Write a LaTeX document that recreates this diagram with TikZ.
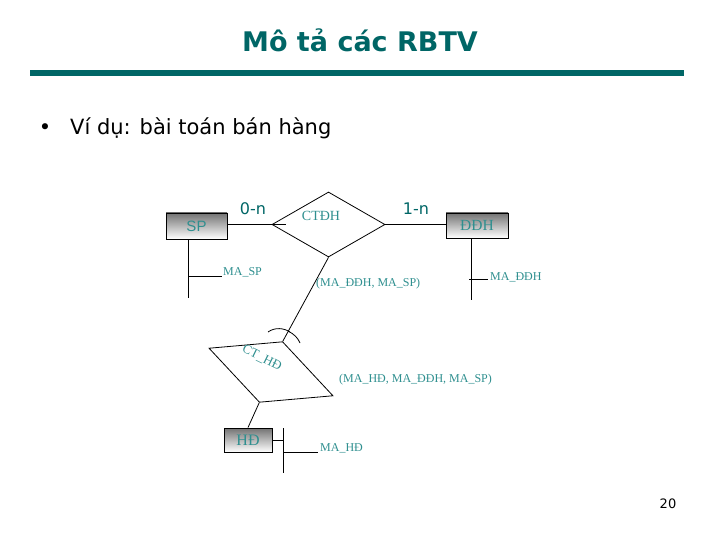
\documentclass[tikz,border=0pt]{standalone}
\usepackage{fontspec}
\usetikzlibrary{shapes.geometric}
\setmainfont{Liberation Serif}
\newfontfamily\dvs{DejaVu Sans}
\newfontfamily\lsans{Liberation Sans}
\definecolor{titleteal}{HTML}{006666}
\definecolor{lblteal}{HTML}{2F8F8F}
\tikzset{
 entity/.style={draw=black, line width=0.9pt, top color=black!55, bottom color=white, inner sep=0pt, text=lblteal},
 rel/.style={draw=black, line width=0.8pt, shape=diamond, inner sep=0pt},
 lbl/.style={text=lblteal, font=\fontsize{12}{12}\selectfont, inner sep=0pt},
 card/.style={text=titleteal, font=\dvs\fontsize{16}{16}\selectfont, inner sep=0pt},
 conn/.style={draw=black, line width=0.8pt},
}
\begin{document}
\begin{tikzpicture}[x=1pt,y=-1pt]
\useasboundingbox (0,0) rectangle (720,540);
% title and rule
\node[anchor=base, text=titleteal, font=\dvs\bfseries\fontsize{27}{27}\selectfont, inner sep=0pt] (title) at (360,52) {Mô tả các RBTV};
\fill[titleteal] (30,70) rectangle (684,76);
% bullet line
\node[anchor=base, font=\dvs\fontsize{21}{21}\selectfont, inner sep=0pt] (dot) at (45,135) {•};
\node[anchor=base west, font=\dvs\fontsize{21}{21}\selectfont, inner sep=0pt] (bullet) at (70,135) {Ví dụ: bài toán bán hàng};
% entities
\node[entity, minimum width=61, minimum height=26, font=\lsans\fontsize{15}{15}\selectfont] (SP) at (196.5,226) {SP};
\node[entity, minimum width=62, minimum height=25, font=\fontsize{15.5}{15.5}\selectfont] (DDH) at (477,225.5) {ĐĐH};
\node[entity, minimum width=48, minimum height=24, font=\fontsize{16}{16}\selectfont] (HD) at (248,440) {HĐ};
% relationships
\node[rel, minimum width=113, minimum height=65] (CTDDH) at (328.5,224.5) {};
\node[lbl, font=\fontsize{14}{14}\selectfont] (CTDDHlbl) at (321,216) {CTĐH};
\node[rel, minimum width=133, minimum height=65, rotate=-21] (CTHD) at (271,372) {};
\node[lbl, font=\fontsize{13}{13}\selectfont, rotate=-26] (CTHDlbl) at (262,358) {CT\_HĐ};
% cardinalities
\node[card] (c1) at (253,209) {0-n};
\node[card] (c2) at (416,209) {1-n};
% connectors
\draw[conn] (SP.east |- CTDDH.west) -- (CTDDH.west);
\draw[conn] (CTDDH.west) -- ++(14,0);
\draw[conn] (CTDDH.east) -- (CTDDH.east -| DDH.west);
\draw[conn] (CTDDH.south) -- (CTHD.north);
\draw[conn] (CTHD.south) -- (HD.north);
\draw[conn] (268,332) .. controls (275,327) and (284,328) .. (290,332);
\draw[conn] (288,331) .. controls (294,334) and (298,338) .. (300,343);
% attributes of SP
\coordinate (spa) at (188,276);
\coordinate (spe) at (222,276);
\coordinate (spb) at (188,298);
\draw[conn] (SP.south -| spa) -- (spb);
\draw[conn] (spa) -- (spe);
\node[lbl, anchor=base west] (maSP) at (223,275) {MA\_SP};
% attributes of DDH
\coordinate (dda) at (469,279);
\coordinate (dde) at (488,279);
\coordinate (ddv) at (471,279);
\coordinate (ddb) at (471,300);
\draw[conn] (DDH.south -| ddv) -- (ddb);
\draw[conn] (dda) -- (dde);
\node[lbl, anchor=base west] (maDDH) at (490,280) {MA\_ĐĐH};
% attributes of HD
\coordinate (hdt) at (283,428);
\coordinate (hdb) at (283,473);
\coordinate (hda) at (283,452);
\coordinate (hde) at (318,452);
\draw[conn] (HD.east) -- (HD.east -| hdt);
\draw[conn] (hdt) -- (hdb);
\draw[conn] (hda) -- (hde);
\node[lbl, anchor=base west] (maHD) at (320,451) {MA\_HĐ};
% relationship keys
\node[lbl, anchor=base west] (k1) at (316,286) {(MA\_ĐĐH, MA\_SP)};
\node[lbl, anchor=base west] (k2) at (339,382) {(MA\_HĐ, MA\_ĐĐH, MA\_SP)};
% page number
\node[font=\dvs\fontsize{13}{13}\selectfont, inner sep=0pt] (pg) at (668,504) {20};
\end{tikzpicture}
\end{document}
